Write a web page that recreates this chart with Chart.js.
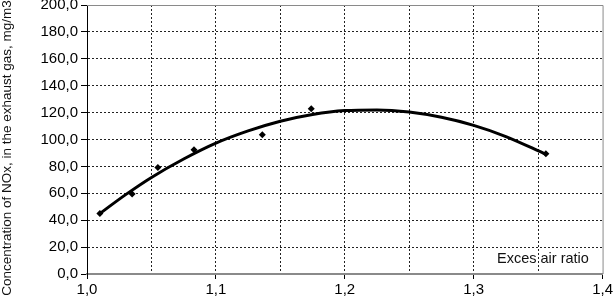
<!DOCTYPE html>
<html>
<head>
<meta charset="utf-8">
<script src="https://cdn.jsdelivr.net/npm/chart.js@4"></script>
<style>
  html, body { margin: 0; padding: 0; background: #fff; overflow: hidden; }
  #wrap { width: 615px; height: 304px; position: relative; margin-top: -7px; }
</style>
</head>
<body>
<div id="wrap"><canvas id="noxChart"></canvas></div>
<script>
// measured points
const airRatio = [1.010, 1.035, 1.055, 1.083, 1.136, 1.174, 1.356];
const noxValues = [45.0, 59.4, 79.1, 92.4, 103.6, 122.8, 89.4];

// trend curve
const trendX = [1.010, 1.030, 1.050, 1.075, 1.100, 1.125, 1.150, 1.175, 1.200, 1.225, 1.250, 1.275, 1.300, 1.325, 1.356];
const trendY = [45.0, 59.0, 71.8, 85.5, 97.3, 106.4, 113.6, 118.6, 121.5, 122.0, 120.4, 116.5, 110.5, 102.2, 89.0];

const yTitle = "Concentration of NOx, in the exhaust gas, mg/m3";
const xTitle = "Exces air ratio";

const FONT = "'Liberation Sans', Arial, sans-serif";
const SHIFT = 7; // canvas is pulled up by this much

const toPoints = (xs, ys) => xs.map((x, i) => ({ x: x, y: ys[i] }));

/* ============================= */
/* FRAME + TITLES */
/* ============================= */

const framePlugin = {
  id: "frame",
  beforeDatasetsDraw(chart) {
    const { ctx, chartArea: a } = chart;
    ctx.save();
    ctx.strokeStyle = "#8a8a8a";
    ctx.lineWidth = 1;
    ctx.beginPath();
    ctx.moveTo(a.left, a.top + 0.5);
    ctx.lineTo(a.right + 0.5, a.top + 0.5);
    ctx.lineTo(a.right + 0.5, a.bottom);
    ctx.stroke();
    ctx.restore();
  },
  afterDraw(chart) {
    const { ctx } = chart;
    ctx.save();
    ctx.fillStyle = "#111";

    // y title, rotated
    ctx.font = "13.5px " + FONT;
    ctx.translate(11, 148 + SHIFT);
    ctx.rotate(-Math.PI / 2);
    ctx.textAlign = "center";
    ctx.textBaseline = "alphabetic";
    ctx.fillText(yTitle, 0, 0);
    ctx.setTransform(1, 0, 0, 1, 0, 0);

    // x title inside plot
    ctx.font = "14.5px " + FONT;
    ctx.textAlign = "left";
    ctx.fillText(xTitle, 497, 263 + SHIFT);
    ctx.restore();
  },
};

/* ============================= */
/* CHART */
/* ============================= */

const fmt = (v) => v.toFixed(1).replace(".", ",");

new Chart(document.getElementById("noxChart"), {
  type: "scatter",
  data: {
    datasets: [
      {
        label: "trend",
        data: toPoints(trendX, trendY),
        showLine: true,
        borderColor: "#000",
        borderWidth: 3,
        cubicInterpolationMode: "monotone",
        pointRadius: 0,
        order: 2,
      },
      {
        label: "NOx",
        data: toPoints(airRatio, noxValues),
        pointStyle: "rectRot",
        pointRadius: 3.5,
        backgroundColor: "#000",
        borderColor: "#000",
        borderWidth: 0,
        order: 1,
      },
    ],
  },
  options: {
    responsive: true,
    maintainAspectRatio: false,
    animation: false,
    layout: { padding: { top: 0, right: 10, bottom: 0, left: 0 } },
    plugins: {
      legend: { display: false },
      tooltip: { enabled: false },
    },
    scales: {
      x: {
        type: "linear",
        min: 1.0,
        max: 1.4,
        afterFit: (s) => { s.height = 23; },
        ticks: {
          stepSize: 0.05,
          autoSkip: false,
          maxRotation: 0,
          padding: 2,
          color: "#000",
          font: { family: FONT, size: 15 },
          callback: (v) => (Math.round(v * 100) % 10 === 0 ? fmt(v) : ""),
        },
        grid: {
          color: (c) => {
            const v = c.tick ? c.tick.value : 0;
            if (Math.abs(v - 1.0) < 1e-6 || Math.abs(v - 1.4) < 1e-6) return "rgba(0,0,0,0)";
            return "#222";
          },
          lineWidth: 1,
          tickLength: 5,
          tickColor: (c) => {
            const v = c.tick ? c.tick.value : 0;
            return Math.round(v * 100) % 10 === 0 ? "#000" : "rgba(0,0,0,0)";
          },
        },
        border: { display: true, color: "#8a8a8a", width: 2, dash: [2, 2] },
      },
      y: {
        min: 0,
        max: 200,
        afterFit: (s) => { s.width = 87; },
        ticks: {
          stepSize: 20,
          padding: 3,
          color: "#000",
          font: { family: FONT, size: 15 },
          callback: (v) => fmt(v),
        },
        grid: {
          color: (c) => {
            const v = c.tick ? c.tick.value : 0;
            if (v === 0 || v === 200) return "rgba(0,0,0,0)";
            return "#222";
          },
          lineWidth: 1,
          tickLength: 6,
          tickColor: "#000",
        },
        border: { display: true, color: "#000", width: 1, dash: [2, 2] },
      },
    },
  },
  plugins: [framePlugin],
});
</script>
</body>
</html>
